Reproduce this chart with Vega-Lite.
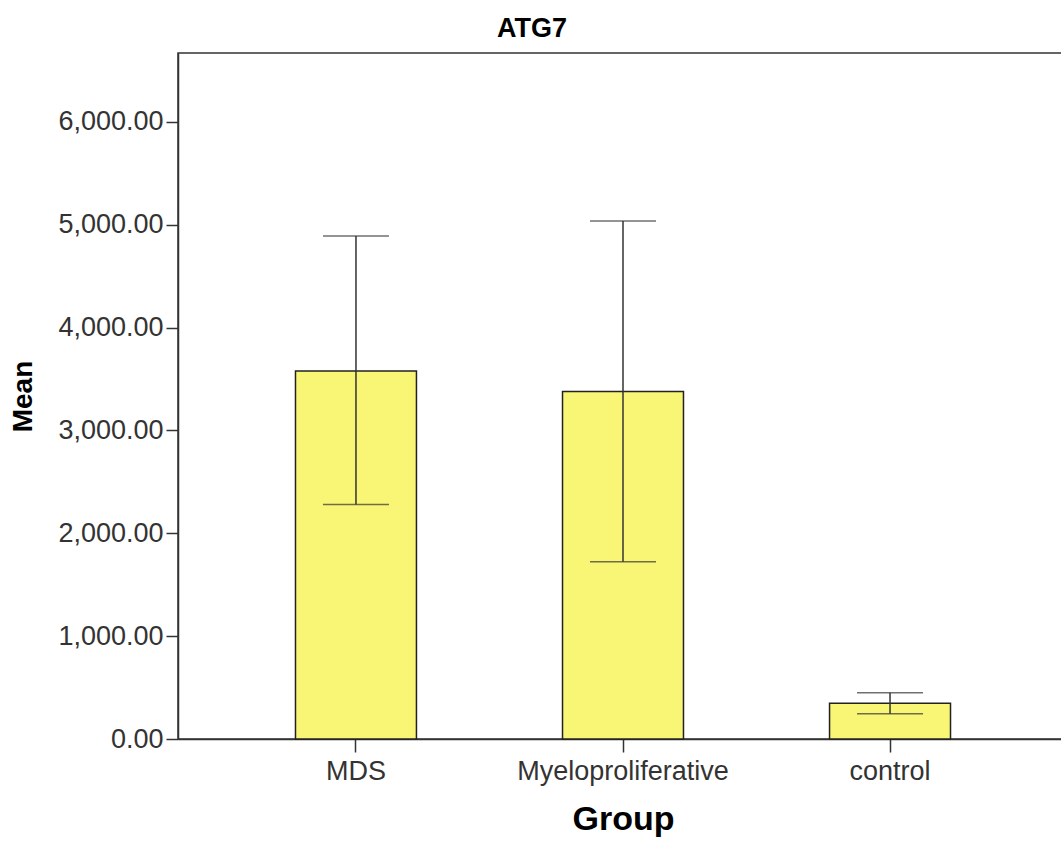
{
  "$schema": "https://vega.github.io/schema/vega-lite/v6.json",
  "width": 890,
  "height": 686,
  "autosize": {"type": "none"},
  "padding": {"left": 178, "top": 53, "right": 0, "bottom": 102},
  "background": "white",
  "config": {
    "font": "Liberation Sans",
    "view": {"stroke": "#333333", "strokeWidth": 1.5},
    "axis": {"grid": false}
  },
  "title": {
    "text": "ATG7",
    "fontSize": 27,
    "fontWeight": "bold",
    "color": "#000000",
    "anchor": "middle",
    "dx": -91,
    "dy": 31,
    "offset": 14,
    "baseline": "bottom"
  },
  "data": {
    "values": [
      {"Group": "MDS", "Mean": 3579, "Lower": 2281, "Upper": 4891},
      {"Group": "Myeloproliferative", "Mean": 3379, "Lower": 1723, "Upper": 5037},
      {"Group": "control", "Mean": 347, "Lower": 246, "Upper": 450}
    ]
  },
  "encoding": {
    "x": {
      "field": "Group",
      "type": "nominal",
      "sort": null,
      "scale": {"paddingInner": 0.547, "paddingOuter": 0.44},
      "axis": {
        "title": "Group",
        "titleFontSize": 34,
        "titleFontWeight": "bold",
        "titleColor": "#000000",
        "titleBaseline": "alphabetic",
        "titleY": 90,
        "labelAngle": 0,
        "labelFontSize": 27,
        "labelLimit": 0,
        "labelColor": "#333333",
        "labelPadding": 6,
        "tickSize": 13,
        "tickWidth": 1.5,
        "tickColor": "#333333",
        "domainColor": "#333333",
        "domainWidth": 1.5
      }
    }
  },
  "layer": [
    {
      "mark": {"type": "bar", "fill": "#F9F675", "stroke": "#222222", "strokeWidth": 1.5},
      "encoding": {
        "y": {
          "field": "Mean",
          "type": "quantitative",
          "scale": {"domain": [0, 6670], "nice": false},
          "axis": {
            "title": "Mean",
            "titleFontSize": 28,
            "titleFontWeight": "bold",
            "titleColor": "#000000",
            "titleBaseline": "alphabetic",
            "titleAngle": -90,
            "titleAlign": "center",
            "titleX": -147,
            "titleY": 343,
            "values": [0, 1000, 2000, 3000, 4000, 5000, 6000],
            "format": ",.2f",
            "labelFontSize": 27,
            "labelColor": "#333333",
            "labelPadding": 3,
            "tickSize": 12,
            "tickWidth": 1.5,
            "tickColor": "#333333",
            "domainColor": "#333333",
            "domainWidth": 1.5
          }
        }
      }
    },
    {
      "mark": {"type": "rule", "color": "#333333", "strokeWidth": 1.5},
      "encoding": {
        "y": {"field": "Lower", "type": "quantitative"},
        "y2": {"field": "Upper"}
      }
    },
    {
      "mark": {"type": "tick", "color": "#333333", "size": 66, "thickness": 1.5},
      "encoding": {"y": {"field": "Lower", "type": "quantitative"}}
    },
    {
      "mark": {"type": "tick", "color": "#333333", "size": 66, "thickness": 1.5},
      "encoding": {"y": {"field": "Upper", "type": "quantitative"}}
    }
  ]
}
